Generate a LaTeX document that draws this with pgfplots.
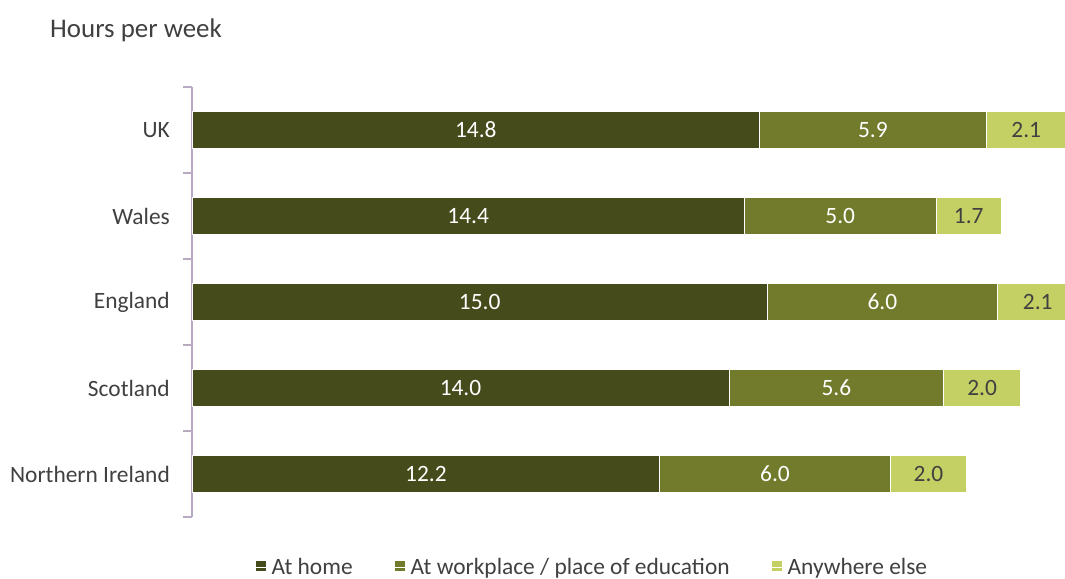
\documentclass[border=0pt]{standalone}
\usepackage{fontspec}
\setmainfont{Carlito}
\usepackage{pgfplots}
\usepackage{pgfplotstable}
\pgfplotsset{compat=1.18}
\definecolor{chome}{RGB}{69,75,27}
\definecolor{cwork}{RGB}{113,123,43}
\definecolor{cother}{RGB}{196,208,100}
\definecolor{axisc}{RGB}{185,170,195}
\definecolor{txt}{RGB}{64,64,64}

\pgfplotstableread{
y home work other
4 14.8 5.9 2.1
3 14.4 5.0 1.7
2 15.0 6.0 2.1
1 14.0 5.6 2.0
0 12.2 6.0 2.0
}\datatable

\newcommand{\lblfont}{\fontsize{23.5}{27}\selectfont}

\begin{document}
\begin{tikzpicture}[x=1bp,y=1bp]
\path[use as bounding box] (0,0) rectangle (1065,579);
\node[anchor=west, text=txt, font=\fontsize{27}{31}\selectfont, inner sep=0pt] at (50,549) {Hours per week};
\begin{axis}[
  at={(192bp,62bp)}, anchor=south west, scale only axis,
  width=873bp, height=430bp,
  xmin=0, xmax=22.76, ymin=-0.5, ymax=4.5,
  xbar stacked, bar width=37bp,
  axis x line=none, axis y line*=left,
  axis line style={axisc, line width=1.5bp},
  ytick={0,1,2,3,4},
  yticklabels={Northern Ireland, Scotland, England, Wales, UK},
  major tick length=0pt,
  minor ytick={-0.5,0.5,1.5,2.5,3.5,4.5},
  minor tick length=9bp, tick align=outside,
  minor tick style={axisc, line width=1.5bp},
  yticklabel style={font=\lblfont, text=txt, anchor=east, inner sep=0pt, xshift=-22bp},
  legend style={at={(0.458,-0.1163)}, anchor=center, draw=none, fill=none,
    font=\lblfont, text=txt, legend columns=-1,
    nodes={inner xsep=1.5bp},
    /tikz/every even column/.append style={column sep=40bp}},
  every axis plot post/.append style={
    legend image code/.code={\fill[#1, draw=none] (0bp,-3.5bp) rectangle (10bp,6.5bp); \path (0bp,0bp) -- (14bp,0bp);}},
]
\addplot[fill=chome, draw=white, line width=1bp] table[x=home, y=y]{\datatable};
\addlegendentry{At home}
\addplot[fill=cwork, draw=white, line width=1bp] table[x=work, y=y]{\datatable};
\addlegendentry{At workplace / place of education}
\addplot[fill=cother, draw=white, line width=1bp] table[x=other, y=y]{\datatable};
\addlegendentry{Anywhere else}
\end{axis}
\begin{axis}[
  at={(192bp,62bp)}, anchor=south west, scale only axis,
  width=873bp, height=430bp,
  xmin=0, xmax=22.76, ymin=-0.5, ymax=4.5,
  hide axis, clip=false,
  nodes near coords={\pgfmathprintnumber[fixed,fixed zerofill,precision=1,assume math mode=true]{\pgfplotspointmeta}},
  every node near coord/.append style={anchor=center, font=\lblfont},
]
\addplot[only marks, mark=none, point meta=explicit, nodes near coords style={text=white}]
  table[x expr=\thisrow{home}/2, y=y, meta=home]{\datatable};
\addplot[only marks, mark=none, point meta=explicit, nodes near coords style={text=white}]
  table[x expr=\thisrow{home}+\thisrow{work}/2, y=y, meta=work]{\datatable};
\addplot[only marks, mark=none, point meta=explicit, nodes near coords style={text=txt}]
  table[x expr=\thisrow{home}+\thisrow{work}+\thisrow{other}/2, y=y, meta=other]{\datatable};
\end{axis}
\end{tikzpicture}
\end{document}
